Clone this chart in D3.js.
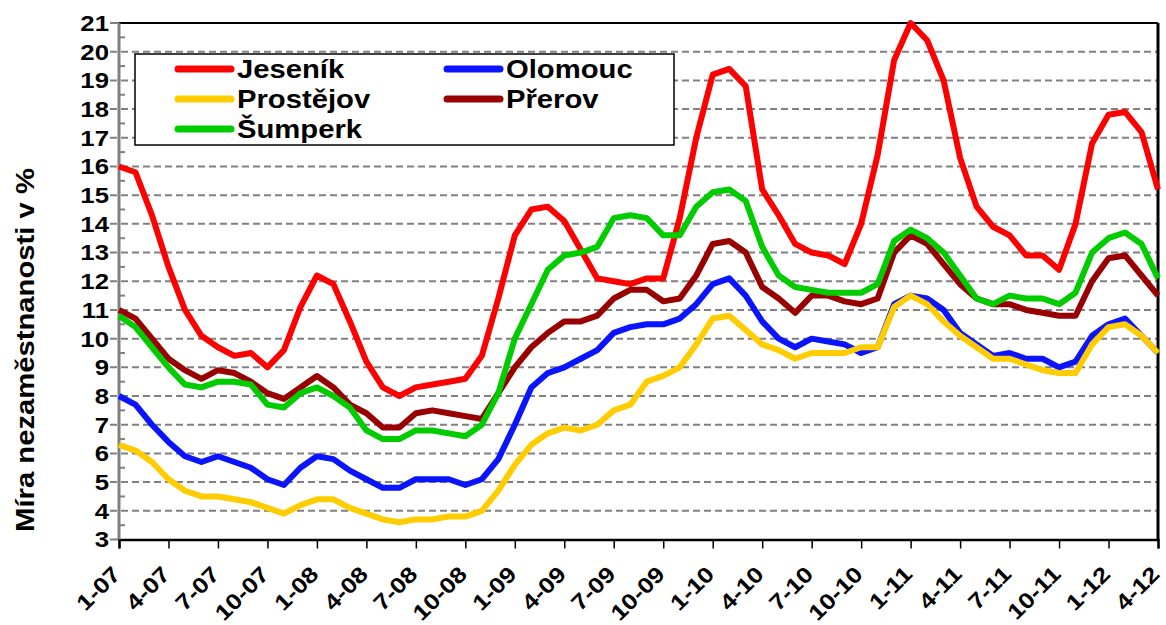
<!DOCTYPE html>
<html><head><meta charset="utf-8">
<script src="https://cdn.jsdelivr.net/npm/d3@7"></script>
<style>body{margin:0;background:#fff}text{font-family:"Liberation Sans",Arial,sans-serif;font-weight:bold;fill:#000}</style>
</head><body><svg id="c" width="1166" height="625"></svg>
<script>
const categories = ["1-07","2-07","3-07","4-07","5-07","6-07","7-07","8-07","9-07","10-07","11-07","12-07",
"1-08","2-08","3-08","4-08","5-08","6-08","7-08","8-08","9-08","10-08","11-08","12-08",
"1-09","2-09","3-09","4-09","5-09","6-09","7-09","8-09","9-09","10-09","11-09","12-09",
"1-10","2-10","3-10","4-10","5-10","6-10","7-10","8-10","9-10","10-10","11-10","12-10",
"1-11","2-11","3-11","4-11","5-11","6-11","7-11","8-11","9-11","10-11","11-11","12-11",
"1-12","2-12","3-12","4-12"];
const xTickLabels = ["1-07","4-07","7-07","10-07","1-08","4-08","7-08","10-08","1-09","4-09","7-09","10-09","1-10","4-10","7-10","10-10","1-11","4-11","7-11","10-11","1-12","4-12"];
const yTicks = [3,4,5,6,7,8,9,10,11,12,13,14,15,16,17,18,19,20,21];

const jesenik = [16.0,15.8,14.3,12.5,11.0,10.1,9.7,9.4,9.5,9.0,9.6,11.1,12.2,11.9,10.6,9.2,8.3,8.0,8.3,8.4,8.5,8.6,9.4,11.4,13.6,14.5,14.6,14.1,13.1,12.1,12.0,11.9,12.1,12.1,14.2,17.0,19.2,19.4,18.8,15.2,14.3,13.3,13.0,12.9,12.6,14.0,16.4,19.7,21.0,20.4,19.0,16.3,14.6,13.9,13.6,12.9,12.9,12.4,14.0,16.8,17.8,17.9,17.2,15.2];
const olomouc = [8.0,7.7,7.0,6.4,5.9,5.7,5.9,5.7,5.5,5.1,4.9,5.5,5.9,5.8,5.4,5.1,4.8,4.8,5.1,5.1,5.1,4.9,5.1,5.8,7.0,8.3,8.8,9.0,9.3,9.6,10.2,10.4,10.5,10.5,10.7,11.2,11.9,12.1,11.5,10.6,10.0,9.7,10.0,9.9,9.8,9.5,9.7,11.2,11.5,11.4,11.0,10.2,9.8,9.4,9.5,9.3,9.3,9.0,9.2,10.1,10.5,10.7,10.1,9.5];
const prostejov = [6.3,6.1,5.7,5.1,4.7,4.5,4.5,4.4,4.3,4.1,3.9,4.2,4.4,4.4,4.1,3.9,3.7,3.6,3.7,3.7,3.8,3.8,4.0,4.7,5.6,6.3,6.7,6.9,6.8,7.0,7.5,7.7,8.5,8.7,9.0,9.8,10.7,10.8,10.3,9.8,9.6,9.3,9.5,9.5,9.5,9.7,9.7,11.1,11.5,11.2,10.6,10.1,9.7,9.3,9.3,9.1,8.9,8.8,8.8,9.8,10.4,10.5,10.1,9.5];
const prerov = [11.0,10.7,10.0,9.3,8.9,8.6,8.9,8.8,8.5,8.1,7.9,8.3,8.7,8.3,7.7,7.4,6.9,6.9,7.4,7.5,7.4,7.3,7.2,8.1,9.0,9.7,10.2,10.6,10.6,10.8,11.4,11.7,11.7,11.3,11.4,12.2,13.3,13.4,13.0,11.8,11.4,10.9,11.5,11.5,11.3,11.2,11.4,13.0,13.6,13.3,12.6,11.9,11.4,11.2,11.2,11.0,10.9,10.8,10.8,12.0,12.8,12.9,12.2,11.5];
const sumperk = [10.8,10.4,9.7,9.0,8.4,8.3,8.5,8.5,8.4,7.7,7.6,8.1,8.3,8.0,7.6,6.8,6.5,6.5,6.8,6.8,6.7,6.6,7.0,8.1,10.0,11.2,12.4,12.9,13.0,13.2,14.2,14.3,14.2,13.6,13.6,14.6,15.1,15.2,14.8,13.2,12.2,11.8,11.7,11.6,11.6,11.6,11.9,13.4,13.8,13.5,13.0,12.2,11.4,11.2,11.5,11.4,11.4,11.2,11.6,13.0,13.5,13.7,13.3,12.1];

const seriesNames = ["Jeseník","Olomouc","Prostějov","Přerov","Šumperk"];
const seriesColors = ["#FF0000","#0A14FF","#FFCC00","#990000","#00CC00"];
const seriesData = [jesenik, olomouc, prostejov, prerov, sumperk];
const yTitle = "Míra nezaměstnanosti v %";

const SX = 1.17;
const L = 119, R = 1158, T = 23, B = 539.5;
const svg = d3.select("#c");
const x = d3.scalePoint().domain(categories).range([L, R]);
const y = d3.scaleLinear().domain([3, 21]).range([B, T]);

// gridlines
svg.append("g").selectAll("line").data(yTicks.filter(d => d > 3 && d < 21)).join("line")
  .attr("x1", L - 9).attr("x2", R).attr("y1", d => y(d)).attr("y2", d => y(d))
  .attr("stroke", "#808080").attr("stroke-width", 2).attr("stroke-dasharray", "7,4");

// minor ticks on y axis (inward)
const minor = yTicks.slice(0, -1).map(d => d + 0.5);
svg.append("g").selectAll("line").data(minor).join("line")
  .attr("x1", L).attr("x2", L + 6).attr("y1", d => y(d)).attr("y2", d => y(d))
  .attr("stroke", "#808080").attr("stroke-width", 2);
svg.append("g").selectAll("line").data([3, 21]).join("line")
  .attr("x1", L - 9).attr("x2", L).attr("y1", d => y(d)).attr("y2", d => y(d))
  .attr("stroke", "#808080").attr("stroke-width", 2);

// top border and right border
svg.append("line").attr("x1", L).attr("x2", R).attr("y1", T).attr("y2", T).attr("stroke", "#000").attr("stroke-width", 2);
svg.append("line").attr("x1", R).attr("x2", R).attr("y1", T).attr("y2", B).attr("stroke", "#000").attr("stroke-width", 3);

// x axis
const xAxis = svg.append("g").attr("transform", `translate(0,${B})`)
  .call(d3.axisBottom(x).tickValues(xTickLabels).tickSize(9).tickFormat(""));
xAxis.select(".domain").attr("stroke", "#000").attr("stroke-width", 2.5);
xAxis.selectAll(".tick line").attr("stroke", "#000").attr("stroke-width", 1.5);
svg.append("g").selectAll("text").data(xTickLabels).join("text")
  .attr("transform", d => `translate(${x(d) + 3},${B + 36}) rotate(-45) scale(${SX},1)`)
  .attr("text-anchor", "end")
  .style("font-size", "22px").text(d => d);

// y axis line
svg.append("line").attr("x1", L).attr("x2", L).attr("y1", T).attr("y2", B).attr("stroke", "#808080").attr("stroke-width", 3);
svg.append("g").selectAll("text").data(yTicks).join("text")
  .attr("transform", d => `translate(${L - 10},${y(d)}) scale(${SX},1)`)
  .attr("text-anchor", "end").attr("dy", "0.36em")
  .style("font-size", "22px").text(d => d);

// y title
svg.append("text")
  .attr("transform", `translate(34,350) rotate(-90) scale(${SX},1)`)
  .attr("text-anchor", "middle").style("font-size", "25px").text(yTitle);

// legend box
svg.append("rect").attr("x", 135).attr("y", 54).attr("width", 539).attr("height", 91)
  .attr("fill", "#fff").attr("stroke", "#000").attr("stroke-width", 1.5);
const legPos = [[178, 69], [447, 69], [178, 99], [447, 99], [178, 129]];
seriesNames.forEach((n, i) => {
  const [lx, ly] = legPos[i];
  svg.append("line").attr("x1", lx).attr("x2", lx + 53).attr("y1", ly).attr("y2", ly)
    .attr("stroke", seriesColors[i]).attr("stroke-width", 7).attr("stroke-linecap", "round");
  svg.append("text").attr("transform", `translate(${lx + 59},${ly}) scale(${SX},1)`)
    .attr("dy", "0.36em").style("font-size", "25px").text(n);
});

// lines
const line = d3.line().x((d, i) => x(categories[i])).y(d => y(d));
seriesData.forEach((s, i) => {
  svg.append("path").datum(s).attr("d", line).attr("fill", "none")
    .attr("stroke", seriesColors[i]).attr("stroke-width", 6).attr("stroke-linejoin", "round");
});
</script></body></html>
